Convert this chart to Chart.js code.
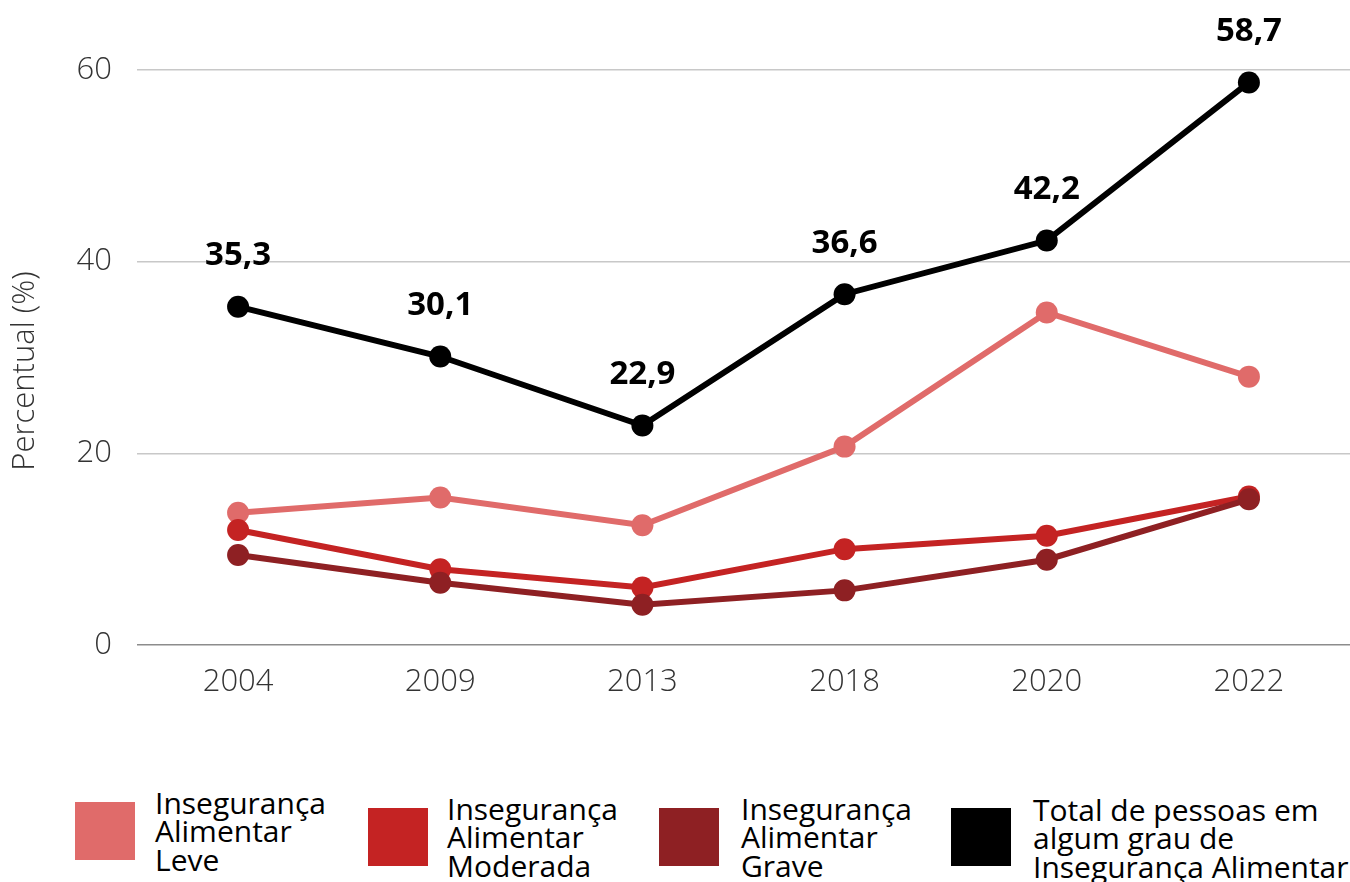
<!DOCTYPE html>
<html>
<head>
<meta charset="utf-8">
<script src="https://cdn.jsdelivr.net/npm/chart.js@4.4.1/dist/chart.umd.min.js"></script>
<style>
  html, body { margin: 0; padding: 0; background: #fff; overflow: hidden; }
  #wrap { position: relative; width: 1350px; height: 882px; overflow: hidden; }
  #c { position: absolute; left: 0; top: 0; width: 1350px; height: 730px; }
  .swatch { position: absolute; width: 60px; height: 58px; }
  .lab { position: absolute; font-family: "Open Sans", sans-serif; font-size: 30px; line-height: 28.5px; color: #000; white-space: nowrap; }
</style>
</head>
<body>
<div id="wrap">
  <canvas id="c" width="1350" height="730"></canvas>
  <div id="legend"></div>
</div>
<script>
const categories = ["2004", "2009", "2013", "2018", "2020", "2022"];
const leve     = [13.8, 15.4, 12.5, 20.7, 34.7, 28.0];
const moderada = [12.0, 7.9, 6.0, 10.0, 11.4, 15.5];
const grave    = [9.4, 6.5, 4.2, 5.7, 8.9, 15.2];
const total    = [35.3, 30.1, 22.9, 36.6, 42.2, 58.7];
const yTicks   = [0, 20, 40, 60];
const seriesNames = [
  ["Insegurança", "Alimentar", "Leve"],
  ["Insegurança", "Alimentar", "Moderada"],
  ["Insegurança", "Alimentar", "Grave"],
  ["Total de pessoas em", "algum grau de", "Insegurança Alimentar"]
];
const colors = ["#E06B6A", "#C42323", "#8E2023", "#000000"];

const tickFont = { family: "'Open Sans', sans-serif", size: 31, weight: '300' };

const dataLabelPlugin = {
  id: 'totalLabels',
  afterDatasetsDraw(chart) {
    const ctx = chart.ctx;
    const meta = chart.getDatasetMeta(3);
    ctx.save();
    ctx.font = "bold 33px 'Open Sans', sans-serif";
    ctx.fillStyle = '#000';
    ctx.textAlign = 'center';
    ctx.textBaseline = 'middle';
    meta.data.forEach((pt, i) => {
      ctx.fillText(total[i].toFixed(1).replace('.', ','), pt.x, pt.y - 51);
    });
    ctx.restore();
  }
};

const yTitlePlugin = {
  id: 'yTitle',
  afterDraw(chart) {
    const ctx = chart.ctx;
    ctx.save();
    ctx.translate(25, 371);
    ctx.rotate(-Math.PI / 2);
    ctx.font = "300 31px 'Open Sans', sans-serif";
    ctx.fillStyle = '#333';
    ctx.textAlign = 'center';
    ctx.textBaseline = 'middle';
    ctx.fillText('Percentual (%)', 0, 0);
    ctx.restore();
  }
};

function ds(label, data, color, order) {
  return {
    label, data,
    borderColor: color, backgroundColor: color,
    pointBackgroundColor: color, pointBorderColor: color,
    borderWidth: 6, pointRadius: 11, pointHoverRadius: 11, pointBorderWidth: 0,
    tension: 0, order
  };
}

new Chart(document.getElementById('c'), {
  type: 'line',
  data: {
    labels: categories,
    datasets: [
      ds(seriesNames[0].join(' '), leve, colors[0], 3),
      ds(seriesNames[1].join(' '), moderada, colors[1], 2),
      ds(seriesNames[2].join(' '), grave, colors[2], 1),
      ds(seriesNames[3].join(' '), total, colors[3], 0)
    ]
  },
  options: {
    responsive: false,
    devicePixelRatio: 1,
    animation: false,
    layout: { autoPadding: false, padding: { left: 0, right: 0, top: 0, bottom: 0 } },
    plugins: { legend: { display: false }, tooltip: { enabled: false } },
    scales: {
      x: {
        offset: true,
        grid: { display: false, drawTicks: false },
        border: { display: false },
        ticks: { font: tickFont, color: '#333', padding: 19 },
        afterFit(s) { s.height = 730 - 645; }
      },
      y: {
        min: 0, max: 62.75,
        afterBuildTicks(s) { s.ticks = yTicks.map(v => ({ value: v })); },
        grid: {
          drawTicks: false,
          color: ctx => ctx.tick && ctx.tick.value === 0 ? '#8c8c8c' : '#c8c8c8',
          lineWidth: 1.5
        },
        border: { display: false },
        ticks: { font: tickFont, color: '#333', padding: 25 },
        afterFit(s) { s.width = 137; }
      }
    }
  },
  plugins: [dataLabelPlugin, yTitlePlugin]
});

// legend (HTML, built from arrays)
const legendPos = [
  { sx: 75,  sy: 802, tx: 155,  ty: 788.5 },
  { sx: 368, sy: 808, tx: 447,  ty: 794.5 },
  { sx: 659, sy: 808, tx: 741,  ty: 794.5 },
  { sx: 951, sy: 808, tx: 1033, ty: 795.5 }
];
const legend = document.getElementById('legend');
seriesNames.forEach((lines, i) => {
  const sw = document.createElement('div');
  sw.className = 'swatch';
  sw.style.left = legendPos[i].sx + 'px';
  sw.style.top = legendPos[i].sy + 'px';
  sw.style.background = colors[i];
  legend.appendChild(sw);
  const t = document.createElement('div');
  t.className = 'lab';
  t.style.left = legendPos[i].tx + 'px';
  t.style.top = legendPos[i].ty + 'px';
  t.innerHTML = lines.join('<br>');
  legend.appendChild(t);
});
</script>
</body>
</html>
